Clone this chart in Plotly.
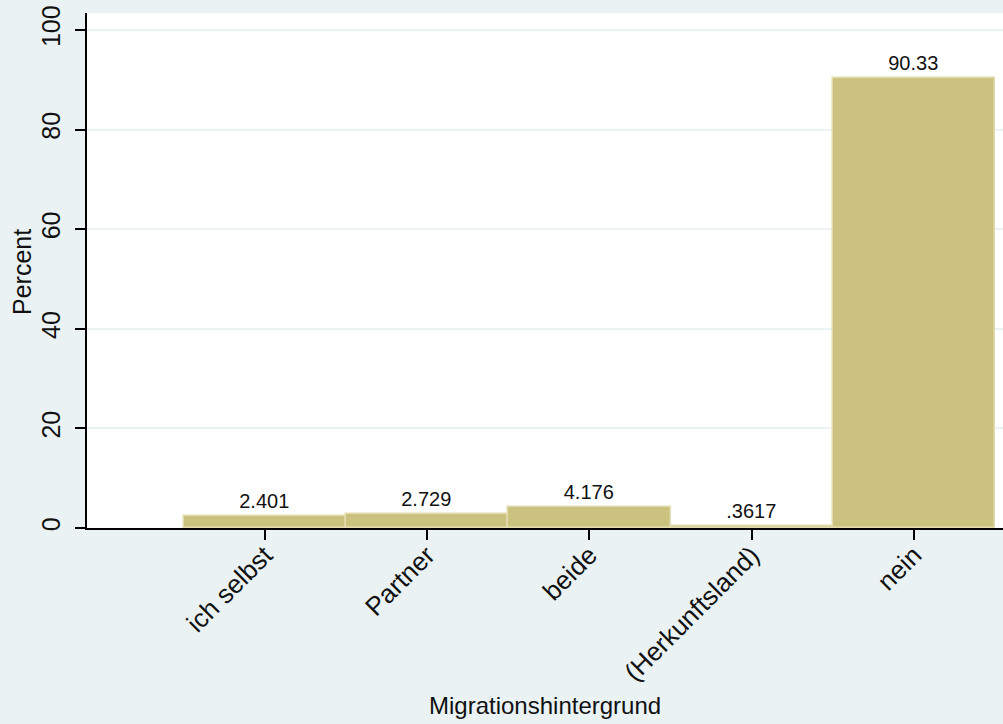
import plotly.graph_objects as go

categories = ["ich selbst", "Partner", "beide", "(Herkunftsland)", "nein"]
percent = [2.401, 2.729, 4.176, 0.3617, 90.33]
y_ticks = [0, 20, 40, 60, 80, 100]

def stata_fmt(v):
    s = f"{v:.4g}"
    if s.startswith("0."):
        s = s[1:]
    return s

labels = [stata_fmt(v) for v in percent]
xpos = list(range(len(categories)))

BG = "#EAF2F3"
FONT = "Liberation Sans, Arial, Helvetica, sans-serif"

L, R, T, B = 87, 1003, 13, 528  # plot area pixel box

fig = go.Figure()
fig.add_trace(go.Bar(
    x=xpos, y=percent, width=1.0,
    marker=dict(color="#CAC27E", line=dict(color="#E2DCAE", width=1.5)),
    text=labels, textposition="outside", cliponaxis=False,
    textfont=dict(family=FONT, size=20, color="#111111"),
))

fig.update_layout(
    width=1003, height=724,
    paper_bgcolor=BG, plot_bgcolor="white",
    margin=dict(l=L, r=1003 - R, t=T, b=724 - B, pad=0),
    font=dict(family=FONT, color="#111111"),
    showlegend=False,
    bargap=0,
    xaxis=dict(
        range=[-1.097, 4.549],
        tickmode="array", tickvals=xpos, ticktext=categories,
        tickangle=-45, tickfont=dict(size=26, family=FONT),
        ticks="outside", ticklen=10, tickwidth=1.5, tickcolor="black",
        ticklabelstandoff=-10,
        showline=True, linecolor="black", linewidth=1.5,
        showgrid=False, zeroline=False, automargin=False,
    ),
    yaxis=dict(
        range=[0, 103.4],
        tickmode="array", tickvals=y_ticks,
        tickangle=-90, tickfont=dict(size=25, family=FONT),
        ticks="outside", ticklen=10, tickwidth=1.5, tickcolor="black",
        ticklabelstandoff=5,
        showline=True, linecolor="black", linewidth=1.5,
        showgrid=True, gridcolor=BG, gridwidth=1.5,
        zeroline=False, automargin=False,
    ),
)

fig.add_annotation(text="Migrationshintergrund",
                   x=(545 - L) / (R - L), y=-(705 - B) / (B - T),
                   xref="paper", yref="paper", showarrow=False,
                   font=dict(size=24, family=FONT), xanchor="center", yanchor="middle")
fig.add_annotation(text="Percent",
                   x=-(L - 22) / (R - L), y=(B - 272) / (B - T),
                   xref="paper", yref="paper", showarrow=False, textangle=-90,
                   font=dict(size=25, family=FONT), xanchor="center", yanchor="middle")

fig.write_html("out.html",
               config={"displayModeBar": False},
               post_script="document.body.style.margin='0';document.body.style.padding='0';")
